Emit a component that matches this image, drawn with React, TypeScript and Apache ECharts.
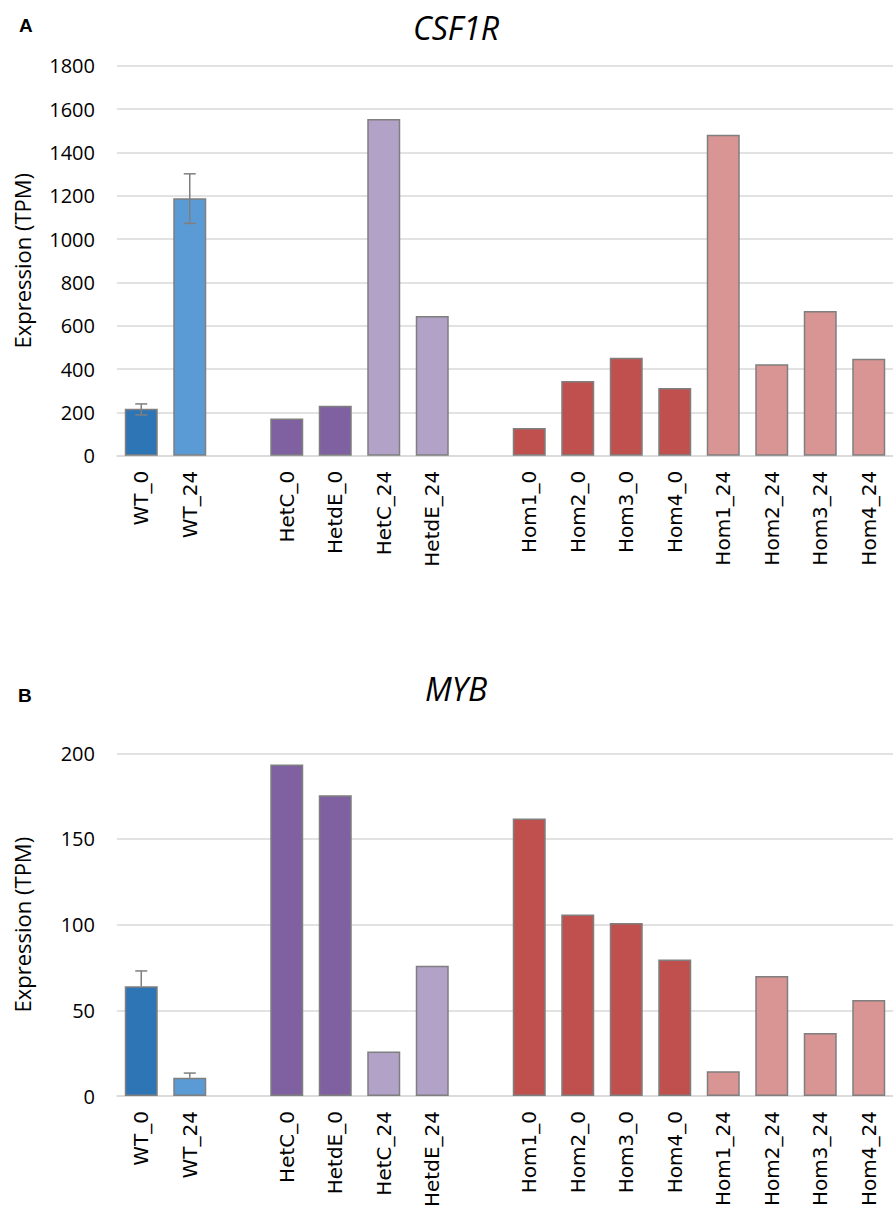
import React, { useEffect, useRef } from "react";
import * as echarts from "echarts";

const categories = ["WT_0", "WT_24", "", "HetC_0", "HetdE_0", "HetC_24", "HetdE_24", "", "Hom1_0", "Hom2_0", "Hom3_0", "Hom4_0", "Hom1_24", "Hom2_24", "Hom3_24", "Hom4_24"];
const barColors = ["#2e75b6", "#5b9bd5", "", "#7f60a0", "#7f60a0", "#b3a2c7", "#b3a2c7", "", "#c0504d", "#c0504d", "#c0504d", "#c0504d", "#d99594", "#d99594", "#d99594", "#d99594"];

const csf1rValues = [217, 1188, null, 172, 230, 1554, 645, null, 128, 345, 452, 312, 1481, 422, 668, 448];
const csf1rErrUp = [22, 113, null, null, null, null, null, null, null, null, null, null, null, null, null, null];
const csf1rErrDown = [29, 116, null, null, null, null, null, null, null, null, null, null, null, null, null, null];

const mybValues = [64, 10.7, null, 193.4, 175.5, 26, 76, null, 162, 106, 101, 79.7, 14.5, 70, 36.8, 56];
const mybErrUp = [9, 2.7, null, null, null, null, null, null, null, null, null, null, null, null, null, null];
const mybErrDown = [0, 0, null, null, null, null, null, null, null, null, null, null, null, null, null, null];

const csf1rTicks = { min: 0, max: 1800, interval: 200 };
const mybTicks = { min: 0, max: 200, interval: 50 };

const GRID_COLOR = "#d9d9d9";
const EDGE = "#7f7f7f";

function errorSeries(values: (number | null)[], up: (number | null)[], down: (number | null)[], axisIndex: number) {
  const data = values
    .map((v, i) => (v != null && up[i] != null ? [i, v, v + (up[i] as number), v - (down[i] as number)] : null))
    .filter((d) => d !== null);
  return {
    type: "custom",
    xAxisIndex: axisIndex,
    yAxisIndex: axisIndex,
    z: 10,
    data,
    renderItem: (params: any, api: any) => {
      const x = api.value(0);
      const hi = api.coord([x, api.value(2)]);
      const lo = api.coord([x, api.value(3)]);
      const cap = 6;
      const st = { stroke: EDGE, lineWidth: 1.5 };
      const children: any[] = [
        { type: "line", shape: { x1: hi[0], y1: hi[1], x2: lo[0], y2: lo[1] }, style: st },
        { type: "line", shape: { x1: hi[0] - cap, y1: hi[1], x2: hi[0] + cap, y2: hi[1] }, style: st },
      ];
      if (api.value(3) < api.value(1)) {
        children.push({ type: "line", shape: { x1: lo[0] - cap, y1: lo[1], x2: lo[0] + cap, y2: lo[1] }, style: st });
      }
      return { type: "group", children };
    },
  };
}

function barSeries(values: (number | null)[], axisIndex: number) {
  return {
    type: "bar",
    xAxisIndex: axisIndex,
    yAxisIndex: axisIndex,
    barWidth: 33,
    data: values.map((v, i) =>
      v == null ? "-" : { value: v, itemStyle: { color: barColors[i], borderColor: EDGE, borderWidth: 1.5 } }
    ),
  };
}

export default function App() {
  const ref = useRef<HTMLDivElement>(null);
  useEffect(() => {
    if (!ref.current) return;
    const chart = echarts.init(ref.current, null, { renderer: "svg" });
    const xAxisCommon = {
      type: "category",
      data: categories,
      axisLine: { show: true, lineStyle: { color: GRID_COLOR, width: 1.5 } },
      axisTick: { show: false },
      axisLabel: { rotate: 90, interval: 0, fontSize: 20, color: "#000", fontFamily: "DejaVu Sans", margin: 15 },
    };
    const yAxisCommon = {
      type: "value",
      axisLine: { show: false },
      axisTick: { show: false },
      splitLine: { lineStyle: { color: GRID_COLOR, width: 1.5 } },
      axisLabel: { fontSize: 20, color: "#000", fontFamily: "Open Sans", margin: 22, formatter: (v: number) => String(v) },
      name: "Expression (TPM)",
      nameLocation: "middle",
      nameGap: 84,
      nameTextStyle: { fontSize: 22, color: "#000", fontFamily: "Open Sans" },
    };
    chart.setOption({
      animation: false,
      backgroundColor: "#fff",
      title: [
        { text: "CSF1R", left: 451, top: 6, textAlign: "center", textStyle: { fontSize: 32, fontStyle: "italic", fontWeight: "normal", fontFamily: "Open Sans", color: "#000" } },
        { text: "MYB", left: 451, top: 667, textAlign: "center", textStyle: { fontSize: 32, fontStyle: "italic", fontWeight: "normal", fontFamily: "Open Sans", color: "#000" } },
        { text: "A", left: 14, top: 11, textStyle: { fontSize: 19, fontWeight: "bold", fontFamily: "Liberation Sans", color: "#000" } },
        { text: "B", left: 13, top: 681, textStyle: { fontSize: 19, fontWeight: "bold", fontFamily: "Liberation Sans", color: "#000" } },
      ],
      grid: [
        { left: 117, right: -8, top: 65.7, height: 390 },
        { left: 117, right: -8, top: 753.3, height: 348 },
      ],
      xAxis: [
        { ...xAxisCommon, gridIndex: 0 },
        { ...xAxisCommon, gridIndex: 1 },
      ],
      yAxis: [
        { ...yAxisCommon, gridIndex: 0, ...csf1rTicks },
        { ...yAxisCommon, gridIndex: 1, ...mybTicks },
      ],
      series: [
        barSeries(csf1rValues, 0),
        errorSeries(csf1rValues, csf1rErrUp, csf1rErrDown, 0),
        barSeries(mybValues, 1),
        errorSeries(mybValues, mybErrUp, mybErrDown, 1),
      ],
    });
    return () => chart.dispose();
  }, []);
  return (
    <div style={{ position: "absolute", left: 0, top: 0, width: 893, height: 1210, overflow: "hidden", background: "#fff" }}>
      <div ref={ref} style={{ width: 893, height: 1210 }} />
    </div>
  );
}
